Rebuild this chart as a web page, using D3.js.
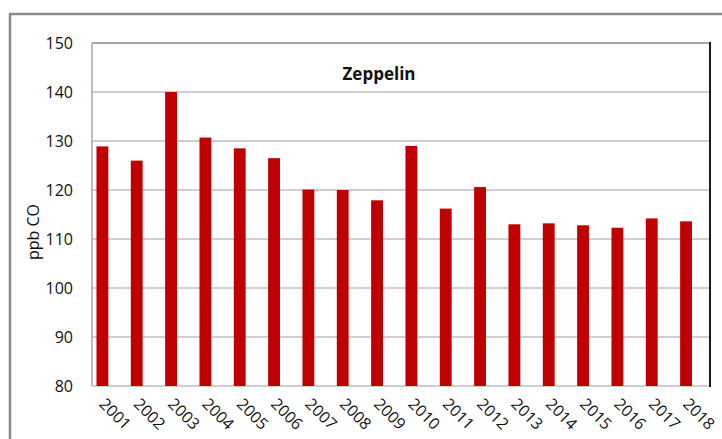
<!DOCTYPE html>
<html><head><meta charset="utf-8">
<script src="https://cdn.jsdelivr.net/npm/d3@7"></script>
<style>body{margin:0;background:#fff;} svg{display:block;}</style>
</head><body>
<svg id="c" width="722" height="439"></svg>
<script>
const years = ["2001","2002","2003","2004","2005","2006","2007","2008","2009","2010","2011","2012","2013","2014","2015","2016","2017","2018"];
const values = [128.9,126.0,140.0,130.7,128.5,126.5,120.1,120.0,117.9,129.0,116.2,120.6,113.0,113.2,112.8,112.3,114.2,113.6];
const yTicks = [80,90,100,110,120,130,140,150];
const title = "Zeppelin";
const yLabel = "ppb CO";

const svg = d3.select("#c");
const font = "'Open Sans', 'Liberation Sans', sans-serif";
const L = 92, R = 710, T = 43, B = 386;

// outer frame
svg.append("path").attr("d", `M10,439 L10,14 L722,14`).attr("fill","none").attr("stroke","#8c8c8c").attr("stroke-width",2.5);

const x = d3.scaleBand().domain(years).range([L, R]).padding(0);
const y = d3.scaleLinear().domain([80,150]).range([B, T]);

// gridlines
svg.append("g").selectAll("line").data(yTicks.slice(1,-1)).join("line")
  .attr("x1", L).attr("x2", R).attr("y1", d=>y(d)).attr("y2", d=>y(d))
  .attr("stroke","#bfbfbf").attr("stroke-width",1.5);

// plot top border
svg.append("line").attr("x1",L).attr("x2",R).attr("y1",T).attr("y2",T).attr("stroke","#8a8a8a").attr("stroke-width",1.5);
// left axis
svg.append("line").attr("x1",L).attr("x2",L).attr("y1",T).attr("y2",B).attr("stroke","#a6a6a6").attr("stroke-width",1.5);
// bottom axis
svg.append("line").attr("x1",L).attr("x2",R).attr("y1",B).attr("y2",B).attr("stroke","#bfbfbf").attr("stroke-width",1.5);

// bars
svg.append("g").selectAll("rect").data(years).join("rect")
  .attr("x", (d)=> x(d) + x.bandwidth()*0.13)
  .attr("width", x.bandwidth()*0.345)
  .attr("y", (d,i)=> y(values[i]))
  .attr("height", (d,i)=> B - y(values[i]))
  .attr("fill","#c00000");

// right border
svg.append("line").attr("x1",R).attr("x2",R).attr("y1",T-1).attr("y2",B+1).attr("stroke","#1a1a1a").attr("stroke-width",2);

// y tick labels
svg.append("g").selectAll("text").data(yTicks).join("text")
  .attr("x", 73).attr("y", d=>y(d)).attr("dy","0.35em")
  .attr("text-anchor","end").attr("font-family",font).attr("font-size",16).attr("fill","#111")
  .text(d=>d);

// x tick labels
svg.append("g").selectAll("text").data(years).join("text")
  .attr("transform", d=>{ const cx = x(d) + x.bandwidth()*0.3; return `translate(${cx},${401}) rotate(45)`; })
  .attr("text-anchor","start").attr("font-family",font).attr("font-size",16).attr("fill","#111")
  .attr("dy","0.35em")
  .text(d=>d);

// title
svg.append("text").attr("x",379).attr("y",80).attr("text-anchor","middle")
  .attr("font-family",font).attr("font-weight","bold").attr("font-size",17).attr("fill","#111").text(title);

// y label
svg.append("text").attr("transform","translate(39,232) rotate(-90)").attr("text-anchor","middle")
  .attr("font-family",font).attr("font-size",16).attr("fill","#111").text(yLabel);
</script>
</body></html>
